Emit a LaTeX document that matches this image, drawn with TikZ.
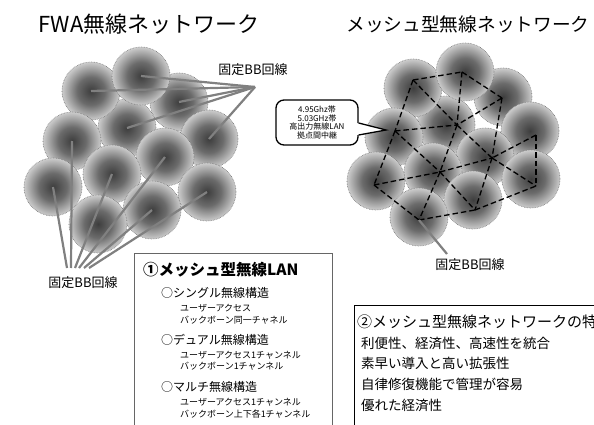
\documentclass[tikz,border=0pt]{standalone}
\usepackage{fontspec}
\usepackage{tikz}
\usetikzlibrary{calc}

\newfontfamily\jp{Noto Sans CJK JP}
\newcommand{\jpsize}[2]{\jp\fontsize{#1}{#2}\selectfont}

% dark centre fading out to the rim of each cell
\pgfdeclareradialshading{cellglow}{\pgfpoint{0bp}{0bp}}{color(0bp)=(black!76); color(12bp)=(black!58); color(25bp)=(black!20); color(50bp)=(black!20)}

\begin{document}
\begin{tikzpicture}[x=1pt,y=-1pt]

	\tikzstyle cell=[shading=cellglow,draw=black!55,densely dotted,line width=0.6pt];
	\tikzstyle bb lines=[line width=2.2pt,black!50];
	\tikzstyle mesh lines=[line width=1.3pt,dash pattern=on 5.5pt off 3pt];
	\tikzstyle bb text=[inner sep=0pt,font=\jpsize{13}{15}];
	\tikzstyle note=[draw,line width=1.3pt,rounded corners=8pt,fill=white,minimum width=82pt,minimum height=45pt,inner sep=0pt,align=center,font=\jpsize{8}{8.7}];
	\tikzstyle box text=[anchor=west,inner sep=0pt];

	\useasboundingbox (0,0) rectangle (594,425);
	\clip (0,0) rectangle (594,425);
	\fill[white] (0,0) rectangle (594,425);

	% titles
	\node[font=\jpsize{22}{24}] (fwa title) at (149,24) {FWA無線ネットワーク};
	\node[font=\jpsize{18.7}{22}] (mesh title) at (468,24) {メッシュ型無線ネットワーク};

	% FWA cells, back row first
	\foreach \x/\y/\n in {179/102/1,127/128/2,91/91/3,141/76/4,72/141/5,209/139/6,165/157/7,112/174/8,53/187/9,207/192/10,152/210/11,98/224/12}
	{
		\coordinate (fwa\n) at (\x,\y);
		\shadedraw[cell] (fwa\n) circle[radius=29pt];
	}

	% fixed lines into each FWA cell
	\coordinate (bb top) at (255,87);
	\foreach \n in {3,4,1,2,6}
		\draw[bb lines] (bb top) -- (fwa\n);
	\foreach \x/\n in {67/9,71/5,75/8,79/7,84/11,89/10}
	{
		\coordinate (base\n) at (\x,268);
		\draw[bb lines] (base\n) -- (fwa\n);
	}
	\node[bb text] (bb top label) at (253,70) {固定BB回線};
	\node[bb text] (bb bottom label) at (83,283) {固定BB回線};

	% mesh cells
	\foreach \x/\y/\n in {503/97/1,446/125/2,413/88/3,465/72/4,394/137/5,530/131/6,485/157/7,433/172/8,376/181/9,531/179/10,473/200/11,419/217/12}
	{
		\coordinate (cell\n) at (\x,\y);
		\shadedraw[cell] (cell\n) circle[radius=29pt];
	}

	% access points and their links
	\foreach \x/\y/\n in {413/80/a,462/72/b,502/98/c,457/125/d,395/131/e,536/135/f,492/158/g,440/172/h,374/185/i,536/186/j,475/210/k,419/220/l}
		\coordinate (ap\n) at (\x,\y);
	\foreach \u/\v in {a/b,b/c,b/d,a/d,c/d,a/e,e/d,c/g,g/k,f/g,f/j,g/j,d/g,e/h,d/h,i/h,h/g,e/i,h/k,h/l,i/l,l/k,k/j}
		\draw[mesh lines] (ap\u) -- (ap\v);

	\coordinate (bb mesh) at (447,254);
	\draw[bb lines] (apl) -- (bb mesh);
	\node[bb text] (bb mesh label) at (470,265) {固定BB回線};

	% callout
	\node[note] (note) at (317,122.5) {4.95Ghz帯\\5.03GHz帯\\高出力無線LAN\\拠点間中継};
	\coordinate (note tip) at (386,130);
	\fill[white] ($(note.east)+(-2,0.5)$) -- (note tip) -- ($(note.east)+(-2,12.5)$) -- cycle;
	\draw[line width=1.3pt] ($(note.east)+(0,0.5)$) -- (note tip) -- ($(note.east)+(0,12.5)$);

	% box 1
	\draw[line width=0.8pt,draw=black!60] (134,253) rectangle (332,440);
	\node[box text,font=\bfseries\jpsize{15.5}{18}] (lan head) at (143,270) {①メッシュ型無線LAN};
	\foreach \y/\txt/\n in {292.5/シングル無線構造/1,340/デュアル無線構造/2,387/マルチ無線構造/3}
		\node[box text,font=\jpsize{12}{14}] (kind\n) at (161,\y) {○\txt};
	\foreach \y/\txt/\n in {308.5/ユーザーアクセス/1,320/バックボーン同一チャネル/2,355/ユーザーアクセス1チャンネル/3,366.5/バックボーン1チャンネル/4,402.5/ユーザーアクセス1チャンネル/5,414/バックボーン上下各1チャンネル/6}
		\node[box text,font=\jpsize{9}{10}] (chan\n) at (180,\y) {\txt};

	% box 2
	\draw[line width=0.8pt] (354,305) rectangle (610,440);
	\node[box text,font=\jpsize{15}{18}] (merit head) at (357,322) {②メッシュ型無線ネットワークの特長};
	\foreach \y/\txt/\n in {343/利便性、経済性、高速性を統合/1,363/素早い導入と高い拡張性/2,384/自律修復機能で管理が容易/3,405/優れた経済性/4}
		\node[box text,font=\jpsize{13.5}{16}] (merit\n) at (361,\y) {\txt};

\end{tikzpicture}
\end{document}
